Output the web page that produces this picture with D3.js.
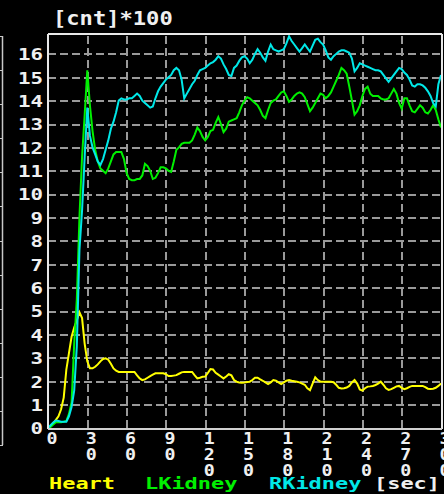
<!DOCTYPE html>
<html>
<head>
<meta charset="utf-8">
<script src="https://cdn.jsdelivr.net/npm/d3@7"></script>
<style>
  html, body { margin: 0; padding: 0; background: #000; }
  svg { display: block; }
</style>
</head>
<body>
<svg id="chart" width="444" height="494"></svg>
<script>
// Renogram: counts (x100) over time, sampled every 2 s from 0 to 300 s
const sampleStep = 2;

const heart = [
  0, 0.08, 0.2, 0.35, 0.5, 0.8, 1.3, 2.5, 3.2, 3.9,
  4.3, 4.6, 4.95, 4.7, 3.6, 2.85, 2.55, 2.55, 2.62, 2.72,
  2.85, 2.95, 2.98, 2.92, 2.75, 2.55, 2.45, 2.4, 2.4, 2.4,
  2.4, 2.4, 2.4, 2.4, 2.25, 2.12, 2.05, 2.08, 2.15, 2.22,
  2.28, 2.34, 2.34, 2.34, 2.34, 2.3, 2.22, 2.22, 2.24, 2.26,
  2.32, 2.38, 2.4, 2.4, 2.4, 2.4, 2.25, 2.12, 2.15, 2.19,
  2.2, 2.35, 2.52, 2.5, 2.36, 2.28, 2.2, 2.12, 2.2, 2.3,
  2.25, 2.05, 1.98, 1.95, 1.94, 1.95, 1.97, 1.98, 2.05, 2.15,
  2.15, 2.08, 2.02, 1.95, 1.88, 1.95, 2.05, 2.02, 1.95, 1.88,
  1.95, 2.02, 2.05, 2.02, 2.0, 1.98, 1.95, 1.9, 1.85, 1.7,
  1.62, 1.9, 2.17, 2.05, 1.98, 1.98, 1.98, 1.98, 1.98, 1.96,
  1.85, 1.72, 1.69, 1.7, 1.73, 1.8, 1.95, 2.05, 1.9, 1.65,
  1.6, 1.7, 1.77, 1.78, 1.8, 1.84, 1.9, 1.98, 1.85, 1.7,
  1.63, 1.66, 1.72, 1.78, 1.8, 1.72, 1.66, 1.7, 1.76, 1.8,
  1.8, 1.8, 1.8, 1.8, 1.75, 1.68, 1.67, 1.68, 1.72, 1.8,
  1.9
];

const lKidney = [
  0, 0.05, 0.15, 0.25, 0.25, 0.25, 0.27, 0.3, 0.6, 1.1,
  3.6, 5.5, 9.0, 11.6, 13.4, 15.3, 13.8, 12.7, 11.9, 11.4,
  11.1, 11.0, 10.9, 11.1, 11.4, 11.7, 11.8, 11.8, 11.8, 11.5,
  10.9, 10.65, 10.6, 10.6, 10.65, 10.65, 10.8, 11.3, 11.2, 11.0,
  10.65, 10.7, 10.9, 11.15, 11.15, 11.1, 11.0, 10.95, 11.4, 11.9,
  12.0, 12.15, 12.2, 12.2, 12.2, 12.3, 12.55, 12.85, 12.7, 12.45,
  12.3, 12.45, 12.7, 12.75, 13.05, 13.3, 13.0, 12.65, 12.8, 13.1,
  13.15, 13.2, 13.25, 13.5, 13.8, 14.0, 14.15, 14.1, 14.0, 13.9,
  13.8, 13.6, 13.35, 13.25, 13.6, 13.9, 14.0, 14.05, 14.2, 14.35,
  14.4, 14.2, 13.95, 14.05, 14.2, 14.3, 14.35, 14.3, 14.15, 13.85,
  13.55, 13.7, 13.9, 14.1, 14.3, 14.25, 14.1, 14.2, 14.35, 14.6,
  14.85, 15.1, 15.4, 15.3, 15.15, 14.6, 14.0, 13.4, 13.55, 13.8,
  14.2, 14.5, 14.6, 14.3, 14.2, 14.2, 14.2, 14.1, 14.05, 14.05,
  14.1, 14.3, 14.5, 14.3, 13.9, 13.65, 14.1, 14.1, 13.8, 13.55,
  13.5, 13.65, 13.8, 13.7, 13.5, 13.45, 13.6, 13.8, 13.6, 13.2,
  12.85
];

const rKidney = [
  0, 0.12, 0.23, 0.32, 0.3, 0.27, 0.27, 0.27, 0.5, 0.9,
  1.6, 3.5, 7.6, 9.3, 11.6, 13.7, 12.5, 12.0, 11.7, 11.4,
  11.25, 11.5, 11.9, 12.3, 12.8, 13.1, 13.5, 14.0, 14.1, 14.05,
  14.05, 14.1, 14.1, 14.2, 14.3, 14.2, 14.0, 13.9, 13.8, 13.7,
  13.75, 14.1, 14.4, 14.6, 14.75, 14.9, 15.0, 15.1, 15.3, 15.4,
  15.3, 14.9, 14.1, 14.3, 14.5, 14.7, 14.85, 15.1, 15.3, 15.35,
  15.4, 15.5, 15.6, 15.65, 15.75, 15.9, 15.8, 15.55, 15.35, 15.1,
  15.05, 15.4, 15.5, 15.7, 15.85, 15.9, 15.8, 15.6, 15.75, 16.0,
  16.2, 16.05, 15.85, 15.7, 16.1, 16.4, 16.2, 16.15, 16.1, 16.15,
  16.2, 16.45, 16.75, 16.55, 16.4, 16.25, 16.1, 16.25, 16.4, 16.25,
  16.1, 16.35, 16.6, 16.65, 16.5, 16.4, 16.15, 15.85, 15.75, 15.9,
  16.0, 16.1, 16.15, 16.15, 16.1, 16.05, 15.8, 15.25, 15.4, 15.6,
  15.55, 15.5, 15.45, 15.4, 15.35, 15.3, 15.3, 15.25, 15.1, 14.95,
  14.8, 14.95, 15.1, 15.25, 15.4, 15.35, 15.2, 15.1, 14.9, 14.65,
  14.6, 14.7, 14.7, 14.65, 14.55, 14.4, 14.2, 13.9, 13.75, 14.7,
  15.1
];

const seriesNames = ["Heart", "LKidney", "RKidney"];
const seriesColors = ["#ffff00", "#00f000", "#00e8e8"];
const yTicks = [0, 1, 2, 3, 4, 5, 6, 7, 8, 9, 10, 11, 12, 13, 14, 15, 16];
const xTicks = [0, 30, 60, 90, 120, 150, 180, 210, 240, 270, 300];
const yTitle = "[cnt]*100";
const xUnit = "[sec]";

const svg = d3.select("#chart");
const W = 444, H = 494;
const plot = { left: 48, right: 441, top: 34, bottom: 428 };

const x = d3.scaleLinear().domain([0, 300]).range([plot.left, plot.right]);
const y = d3.scaleLinear().domain([0, 16.85]).range([plot.bottom, plot.top]);

svg.append("rect").attr("width", W).attr("height", H).attr("fill", "#000");

// Fixed-pitch bitmap-like text: stretch glyphs to a given character pitch
function pixText(sel, size, pitch) {
  sel.attr("font-family", "'DejaVu Sans Mono', monospace")
     .attr("font-weight", "bold")
     .attr("font-size", size)
     .attr("lengthAdjust", "spacingAndGlyphs")
     .attr("textLength", function () { return this.textContent.length * pitch; });
}

// Side rule of the neighbouring panel at the far left
const sideScale = d3.scaleLinear().domain([0, 12]).range([36, 445]);
svg.append("line")
  .attr("x1", 2.5).attr("x2", 2.5)
  .attr("y1", sideScale(0)).attr("y2", sideScale(12))
  .attr("stroke", "#c8c8c8").attr("stroke-width", 1.5);
svg.append("g").selectAll("line")
  .data(d3.range(0, 13))
  .join("line")
  .attr("x1", 0).attr("x2", 3)
  .attr("y1", d => Math.round(sideScale(d)) + 0.5)
  .attr("y2", d => Math.round(sideScale(d)) + 0.5)
  .attr("stroke", "#c8c8c8").attr("stroke-width", 1);

// Dashed grid
const gridColor = "#9a9a9a";
const gy = svg.append("g")
  .attr("transform", `translate(${plot.left},0)`)
  .call(d3.axisLeft(y).tickValues(yTicks.filter(v => v > 0)).tickSize(-(plot.right - plot.left)).tickFormat(""));
gy.select(".domain").remove();
gy.selectAll("line").attr("stroke", gridColor).attr("stroke-width", 2)
  .attr("stroke-dasharray", "8,4").attr("shape-rendering", "crispEdges");

const gx = svg.append("g")
  .attr("transform", `translate(0,${plot.bottom})`)
  .call(d3.axisBottom(x).tickValues(xTicks.filter(v => v > 0 && v < 300)).tickSize(-(plot.bottom - plot.top)).tickFormat(""));
gx.select(".domain").remove();
gx.selectAll("line").attr("stroke", gridColor).attr("stroke-width", 2)
  .attr("stroke-dasharray", "8,4").attr("shape-rendering", "crispEdges");

// Series lines
const series = [heart, lKidney, rKidney];
const line = d3.line()
  .x((d, i) => x(i * sampleStep))
  .y(d => y(d));
series.forEach((vals, k) => {
  svg.append("path")
    .datum(vals)
    .attr("d", line)
    .attr("fill", "none")
    .attr("stroke", seriesColors[k])
    .attr("stroke-width", 2)
    .attr("stroke-linejoin", "miter");
});

// Frame
const frame = svg.append("g").attr("shape-rendering", "crispEdges");
frame.append("line").attr("x1", plot.left).attr("x2", plot.right + 1)
  .attr("y1", plot.top).attr("y2", plot.top).attr("stroke", "#e8e8e8").attr("stroke-width", 2);
frame.append("line").attr("x1", plot.right + 1).attr("x2", plot.right + 1)
  .attr("y1", plot.top).attr("y2", plot.bottom + 1).attr("stroke", "#e8e8e8").attr("stroke-width", 2);
frame.append("line").attr("x1", plot.left).attr("x2", plot.left)
  .attr("y1", plot.top).attr("y2", plot.bottom + 1).attr("stroke", "#e8e8e8").attr("stroke-width", 2);
frame.append("line").attr("x1", plot.left).attr("x2", plot.right + 1)
  .attr("y1", plot.bottom + 1).attr("y2", plot.bottom + 1).attr("stroke", "#d0d0d0").attr("stroke-width", 2);

// Y tick labels
const ay = svg.append("g")
  .attr("transform", `translate(${plot.left},0)`)
  .call(d3.axisLeft(y).tickValues(yTicks).tickSize(0).tickPadding(5).tickFormat(d3.format("d")));
ay.select(".domain").remove();
ay.selectAll("text")
  .attr("fill", "#f0f0f0")
  .attr("dy", "0.36em")
  .call(pixText, 16, 12.5);

// X tick labels: digits stacked vertically
const ax = svg.append("g")
  .attr("transform", `translate(0,${plot.bottom})`)
  .call(d3.axisBottom(x).tickValues(xTicks).tickSize(0).tickFormat(d3.format("d")));
ax.select(".domain").remove();
ax.selectAll(".tick").each(function (d) {
  const g = d3.select(this);
  g.select("text").remove();
  String(d).split("").forEach((ch, i) => {
    g.append("text")
      .attr("x", 3.5)
      .attr("y", 16 + i * 16)
      .attr("text-anchor", "middle")
      .attr("fill", "#f0f0f0")
      .text(ch)
      .call(pixText, 15, 11);
  });
});

// Title
svg.append("text")
  .attr("x", 53).attr("y", 25)
  .attr("fill", "#f0f0f0")
  .text(yTitle)
  .call(pixText, 19, 13.3);

// Legend row
const legendX = [49, 145, 269];
const legend = svg.append("g");
seriesNames.forEach((name, k) => {
  legend.append("text")
    .attr("x", legendX[k]).attr("y", 489)
    .attr("fill", seriesColors[k])
    .text(name)
    .call(pixText, 16, 13.2);
});
legend.append("text")
  .attr("x", 374).attr("y", 489)
  .attr("fill", "#f0f0f0")
  .text(xUnit)
  .call(pixText, 16, 13.2);
</script>
</body>
</html>
